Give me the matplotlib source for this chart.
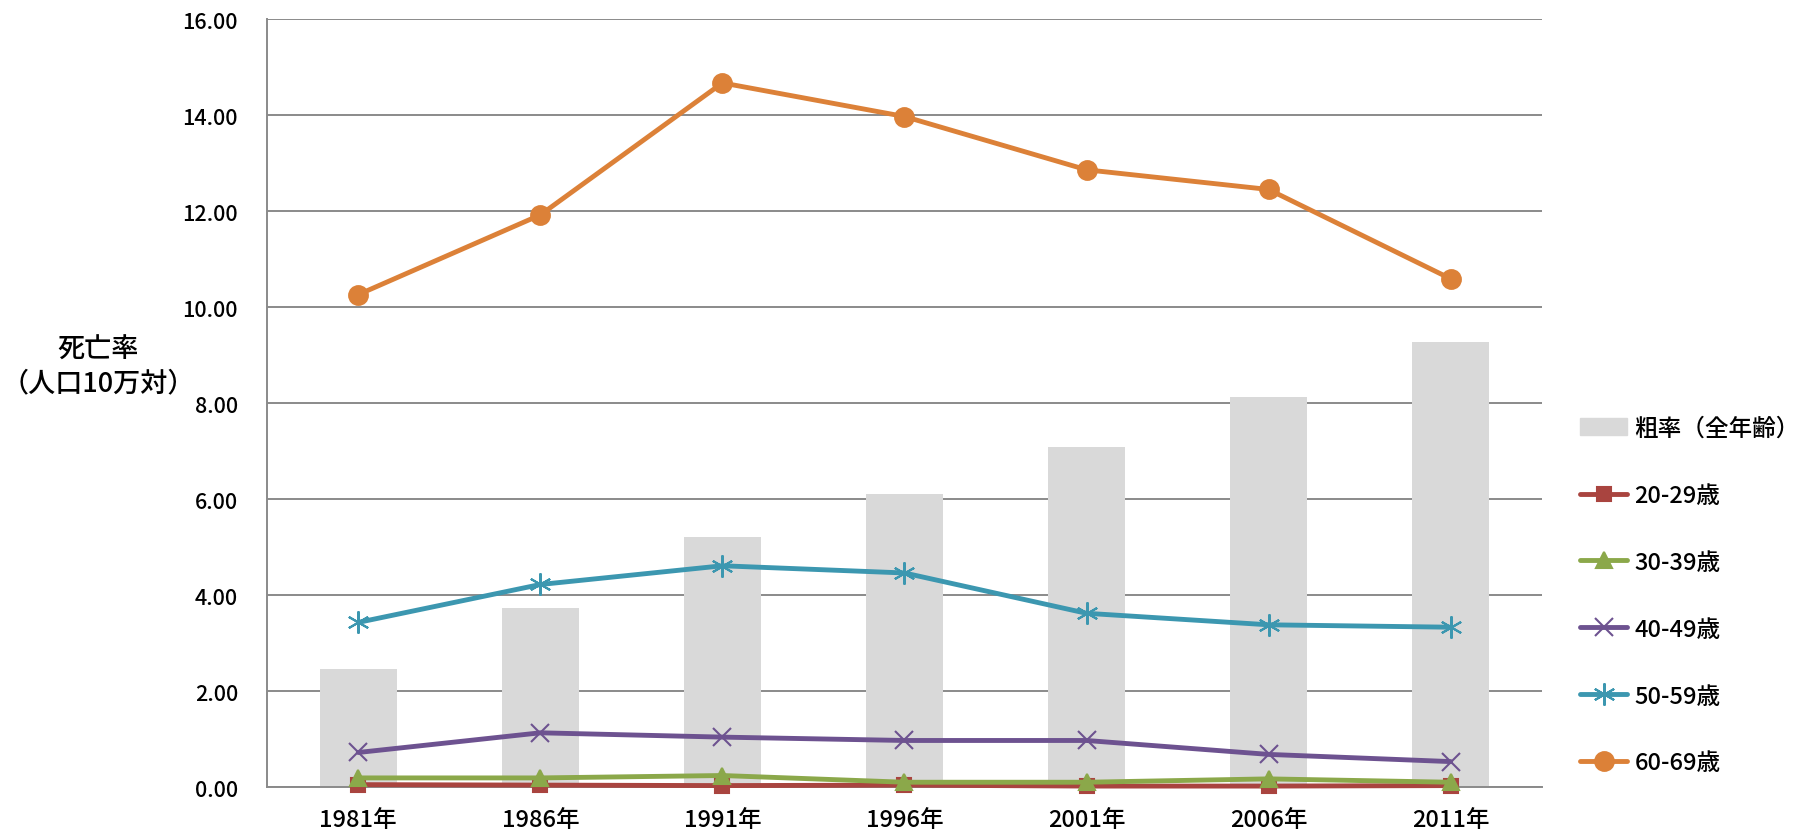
import numpy as np
import matplotlib.pyplot as plt
from matplotlib.patches import Patch

plt.rcParams['font.family'] = ['Noto Sans CJK JP', 'DejaVu Sans']
plt.rcParams['font.weight'] = 'medium'

years = ['1981年', '1986年', '1991年', '1996年', '2001年', '2006年', '2011年']
crude = [2.46, 3.72, 5.21, 6.11, 7.09, 8.13, 9.27]
age20 = [0.05, 0.04, 0.03, 0.04, 0.02, 0.02, 0.03]
age30 = [0.19, 0.19, 0.24, 0.10, 0.10, 0.17, 0.10]
age40 = [0.72, 1.13, 1.04, 0.97, 0.97, 0.68, 0.53]
age50 = [3.43, 4.22, 4.61, 4.46, 3.62, 3.38, 3.33]
age60 = [10.26, 11.92, 14.67, 13.97, 12.86, 12.45, 10.59]
yticks = [0, 2, 4, 6, 8, 10, 12, 14, 16]

fig = plt.figure(figsize=(18.18, 8.37), dpi=100)
ax = fig.add_axes([0.147, 0.0585, 0.701, 0.9175])
x = np.arange(len(years))

ax.bar(x, crude, width=0.42, color='#D9D9D9', zorder=2)

# values, label, colour, marker, size
series = [
    (age20, '20-29歳', '#A9443F', 's', 10),
    (age30, '30-39歳', '#8BA84A', '^', 12),
    (age40, '40-49歳', '#6D5290', 'x', 13),
    (age50, '50-59歳', '#3C97B0', (6, 2, 0), 16),
    (age60, '60-69歳', '#DC8138', 'o', 13.5),
]
handles = [Patch(color='#D9D9D9', label='粗率（全年齢）')]
for vals, lab, col, mk, ms in series:
    h, = ax.plot(x, vals, color=col, lw=3.5, marker=mk, markersize=ms,
                 markeredgecolor=col, markeredgewidth=1.5, label=lab, zorder=3,
                 solid_capstyle='round', clip_on=False)
    handles.append(h)

ax.set_xlim(-0.5, 6.5)
ax.set_ylim(0, 16)
ax.set_yticks(yticks)
ax.set_yticklabels(['%.2f' % v for v in yticks])
ax.set_xticks(x)
ax.set_xticklabels(years)
ax.grid(True, axis='y', color='#8A8A8A', lw=1.4, zorder=1)
ax.set_axisbelow(True)
for s in ['top', 'right']:
    ax.spines[s].set_visible(False)
for s in ['left', 'bottom']:
    ax.spines[s].set_color('#8A8A8A')
    ax.spines[s].set_linewidth(1.4)
ax.tick_params(axis='y', length=0, pad=21, labelsize=15.5)
ax.tick_params(axis='x', length=0, pad=15, labelsize=17)

fig.text(0.054, 0.5615, '死亡率\n（人口10万対）', ha='center', va='center',
         fontsize=19.5, linespacing=1.35)

fig.legend(handles=handles, loc='upper left', bbox_to_anchor=(0.864, 0.512),
           frameon=False, fontsize=17, handlelength=2.0, handletextpad=0.3,
           labelspacing=1.86, borderaxespad=0)

fig.savefig('out.png', dpi=100)
